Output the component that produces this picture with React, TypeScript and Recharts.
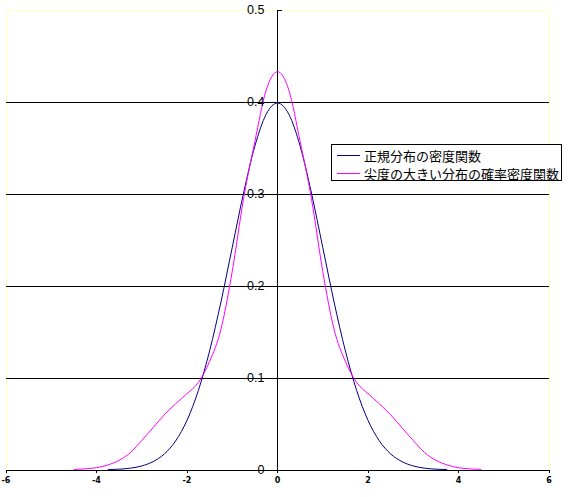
import { ComposedChart, Line, Scatter, XAxis, YAxis, ReferenceLine, ReferenceArea } from 'recharts';

// standard normal density
const normalX = [-3.75, -3.5, -3.25, -3, -2.75, -2.5, -2.25, -2, -1.75, -1.5, -1.25, -1, -0.75, -0.5, -0.25, 0,
  0.25, 0.5, 0.75, 1, 1.25, 1.5, 1.75, 2, 2.25, 2.5, 2.75, 3, 3.25, 3.5, 3.75];
const normalY = [0.0004, 0.0009, 0.002, 0.0044, 0.0091, 0.0175, 0.0317, 0.054, 0.0863, 0.1295, 0.1826, 0.242, 0.3011, 0.3521, 0.3867, 0.3989,
  0.3867, 0.3521, 0.3011, 0.242, 0.1826, 0.1295, 0.0863, 0.054, 0.0317, 0.0175, 0.0091, 0.0044, 0.002, 0.0009, 0.0004];

// leptokurtic density
const peakedX = [-4.5, -4.25, -4, -3.75, -3.5, -3.25, -3, -2.75, -2.5, -2.25, -2, -1.75, -1.5, -1.25, -1, -0.75, -0.5, -0.25, 0,
  0.25, 0.5, 0.75, 1, 1.25, 1.5, 1.75, 2, 2.25, 2.5, 2.75, 3, 3.25, 3.5, 3.75, 4, 4.25, 4.5];
const peakedY = [0.0006, 0.0012, 0.0025, 0.0055, 0.0105, 0.019, 0.032, 0.046, 0.06, 0.072, 0.083, 0.095, 0.118, 0.153, 0.216, 0.295, 0.357, 0.413, 0.433,
  0.413, 0.357, 0.295, 0.216, 0.153, 0.118, 0.095, 0.083, 0.072, 0.06, 0.046, 0.032, 0.019, 0.0105, 0.0055, 0.0025, 0.0012, 0.0006];

const seriesNames = ['正規分布の密度関数', '尖度の大きい分布の確率密度関数'];
const seriesColors = ['#000080', '#ff00ff'];

const xTicks = [-6, -4, -2, 0, 2, 4, 6];
const yTicks = [0, 0.1, 0.2, 0.3, 0.4, 0.5];
const yTickLabels = ['0', '0.1', '0.2', '0.3', '0.4', '0.5'];
const gridValues = [0.1, 0.2, 0.3, 0.4];

const normalData = normalX.map((x, i) => ({ x, y: normalY[i] }));
const peakedData = peakedX.map((x, i) => ({ x, y: peakedY[i] }));
const yLabelData = yTicks.map((y, i) => ({ x: 0, y, label: yTickLabels[i] }));

const labelFont = '"Liberation Sans", Arial, sans-serif';

// tick labels sit left of the y axis drawn through x = 0
function YLabel(props: any) {
  const { cx, cy, payload } = props;
  return (
    <g>
      <line x1={cx} x2={cx + 4} y1={cy} y2={cy} stroke="#000" shapeRendering="crispEdges" />
      <text x={cx - 13} y={cy} textAnchor="end" dominantBaseline="central" fontSize={12.5} fontFamily={labelFont} fill="#000">
        {payload.label}
      </text>
    </g>
  );
}

function LegendBox() {
  return (
    <div
      style={{
        position: 'absolute',
        left: 331,
        top: 144,
        width: 229,
        height: 34,
        border: '1px solid #000',
        background: '#fff',
        paddingTop: 1,
        boxSizing: 'content-box',
      }}
    >
      {seriesNames.map((name, i) => (
        <div key={name} style={{ display: 'flex', alignItems: 'center', height: 18.5 - i * 1 }}>
          <div style={{ width: 23, height: 0, borderTop: `1.5px solid ${seriesColors[i]}`, marginLeft: 5, marginRight: 4 }} />
          <span
            style={{
              fontFamily: '"Noto Sans CJK JP", sans-serif',
              fontSize: 13,
              lineHeight: '15px',
              whiteSpace: 'nowrap',
            }}
          >
            {name}
          </span>
        </div>
      ))}
    </div>
  );
}

export default function App() {
  return (
    <div style={{ position: 'absolute', left: 0, top: 0, width: 575, height: 497, background: '#fff' }}>
      <ComposedChart width={575} height={497} margin={{ top: 10, right: 26, bottom: 0, left: 6 }}>
        <XAxis
          type="number"
          dataKey="x"
          domain={[-6, 6]}
          ticks={xTicks}
          allowDataOverflow
          height={27}
          axisLine={{ stroke: '#000', shapeRendering: 'crispEdges' }}
          tickLine={{ stroke: '#000', shapeRendering: 'crispEdges' }}
          tickSize={3}
          tickMargin={4}
          tick={{ fontSize: 8, fontWeight: 'bold', fill: '#000', fontFamily: '"DejaVu Sans", sans-serif' }}
        />
        <YAxis type="number" dataKey="y" domain={[0, 0.5]} ticks={yTicks} hide />
        <ReferenceArea x1={-6} x2={6} y1={0} y2={0.5} fill="none" stroke="#ffffc0" shapeRendering="crispEdges" />
        {gridValues.map(v => (
          <ReferenceLine key={v} y={v} stroke="#000" shapeRendering="crispEdges" />
        ))}
        <ReferenceLine x={0} stroke="#000" shapeRendering="crispEdges" />
        <Line
          data={normalData}
          dataKey="y"
          name={seriesNames[0]}
          type="monotone"
          stroke={seriesColors[0]}
          strokeWidth={1}
          dot={false}
          isAnimationActive={false}
        />
        <Line
          data={peakedData}
          dataKey="y"
          name={seriesNames[1]}
          type="monotone"
          stroke={seriesColors[1]}
          strokeWidth={1}
          dot={false}
          isAnimationActive={false}
        />
        <Scatter data={yLabelData} dataKey="y" legendType="none" shape={<YLabel />} isAnimationActive={false} />
      </ComposedChart>
      <LegendBox />
    </div>
  );
}
